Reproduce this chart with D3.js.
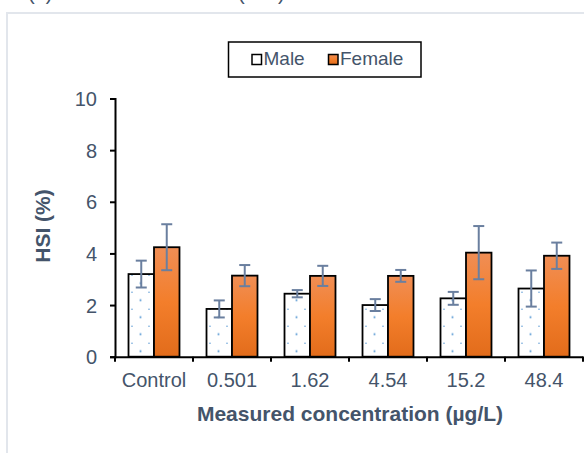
<!DOCTYPE html>
<html lang="en">
<head>
  <meta charset="UTF-8">
  <title>HSI</title>
  <script src="https://d3js.org/d3.v7.min.js"></script>
  <style>
    body{ margin:0; background:#fff; }
    svg{ display:block; font-family:"Liberation Sans", Arial, sans-serif; }
    .tick text{ fill:#44546a; font-size:20px; }
    .domain{ stroke:#000; stroke-width:2; }
  </style>
</head>
<body>
  <div id="chart"><svg></svg></div>
  <script>
    const categories = ["Control", "0.501", "1.62", "4.54", "15.2", "48.4"];
    const series = ["Male", "Female"];
    const maleMean = [3.2, 1.85, 2.44, 2.0, 2.26, 2.64];
    const maleErr = [0.52, 0.33, 0.14, 0.23, 0.25, 0.70];
    const femaleMean = [4.24, 3.14, 3.13, 3.13, 4.03, 3.91];
    const femaleErr = [0.89, 0.41, 0.39, 0.23, 1.03, 0.51];
    const yTicks = [0, 2, 4, 6, 8, 10];

    const W = 584, H = 453;
    const textCol = "#44546a", errCol = "#6a7f9f";
    const svg = d3.select("svg").attr("width", W).attr("height", H);

    const defs = svg.append("defs");
    // dotted fill for male bars
    const pat = defs.append("pattern")
      .attr("id", "dots").attr("patternUnits", "userSpaceOnUse")
      .attr("width", 17).attr("height", 17).attr("y", 2.7);
    pat.append("rect").attr("width", 17).attr("height", 17).attr("fill", "#fff");
    pat.append("rect").attr("x", -0.9).attr("y", -0.9).attr("width", 1.8).attr("height", 1.8).attr("fill", "#5b9bd5");
    pat.append("rect").attr("x", 16.1).attr("y", -0.9).attr("width", 1.8).attr("height", 1.8).attr("fill", "#5b9bd5");
    pat.append("rect").attr("x", 7.6).attr("y", 7.6).attr("width", 1.8).attr("height", 1.8).attr("fill", "#5b9bd5");
    // orange gradient for female bars
    const grad = defs.append("linearGradient").attr("id", "orange")
      .attr("x1", 0).attr("y1", 0).attr("x2", 0).attr("y2", 1);
    grad.append("stop").attr("offset", "0%").attr("stop-color", "#f08e55");
    grad.append("stop").attr("offset", "50%").attr("stop-color", "#f37e2b");
    grad.append("stop").attr("offset", "100%").attr("stop-color", "#e26c1b");

    // light frame
    svg.append("rect").attr("x", 7).attr("y", 13).attr("width", 600).attr("height", 460)
      .attr("fill", "none").attr("stroke", "#e2e6ec").attr("stroke-width", 2);

    // caption line, clipped by the top edge as in the source
    svg.append("text").attr("x", 28).attr("y", 0).attr("font-size", 20).attr("fill", textCol).text("(a)");
    svg.append("text").attr("x", 238).attr("y", 0).attr("font-size", 20).attr("fill", textCol).text("(HSI)");

    const x = d3.scaleBand().domain(categories).range([115, 583]);
    const xSub = d3.scaleBand().domain(series).range([0, x.bandwidth()]).paddingOuter(0.53);
    const y = d3.scaleLinear().domain([0, 10]).range([356.7, 98.5]);

    // y axis
    const yAxis = svg.append("g").attr("transform", "translate(115,0)")
      .call(d3.axisLeft(y).tickValues(yTicks).tickSize(5).tickPadding(13));
    yAxis.selectAll(".tick line").attr("stroke", "#000").attr("stroke-width", 2);
    yAxis.selectAll(".tick text").attr("dy", "0.35em");

    // bars
    const rows = categories.map((c, i) => ({
      cat: c,
      vals: [
        { key: "Male", mean: maleMean[i], err: maleErr[i] },
        { key: "Female", mean: femaleMean[i], err: femaleErr[i] }
      ]
    }));
    const grp = svg.append("g").selectAll("g").data(rows).enter().append("g")
      .attr("transform", d => "translate(" + x(d.cat) + ",0)");
    grp.selectAll("rect").data(d => d.vals).enter().append("rect")
      .attr("x", d => xSub(d.key))
      .attr("y", d => y(d.mean))
      .attr("width", xSub.bandwidth())
      .attr("height", d => y(0) - y(d.mean))
      .attr("fill", d => d.key === "Male" ? "url(#dots)" : "url(#orange)")
      .attr("stroke", "#000").attr("stroke-width", 1.8);

    // x axis
    const xAxis = svg.append("g").attr("transform", "translate(0," + y(0) + ")")
      .call(d3.axisBottom(x).tickSize(0).tickPadding(10));
    xAxis.selectAll(".tick text").attr("dy", "0.71em").attr("y", 16.5);
    xAxis.append("g").selectAll("line")
      .data(categories.map(c => x(c)).concat([x.range()[1]]))
      .enter().append("line")
      .attr("x1", d => d).attr("x2", d => d).attr("y1", 0).attr("y2", 5)
      .attr("stroke", "#000").attr("stroke-width", 2);

    // error bars
    const eb = grp.selectAll("g.err").data(d => d.vals).enter().append("g").attr("class", "err")
      .attr("stroke", errCol).attr("stroke-width", 2);
    const cx = d => xSub(d.key) + xSub.bandwidth() / 2;
    eb.append("line").attr("x1", cx).attr("x2", cx)
      .attr("y1", d => y(d.mean + d.err)).attr("y2", d => y(d.mean - d.err));
    eb.append("line").attr("x1", d => cx(d) - 5.5).attr("x2", d => cx(d) + 5.5)
      .attr("y1", d => y(d.mean + d.err)).attr("y2", d => y(d.mean + d.err));
    eb.append("line").attr("x1", d => cx(d) - 5.5).attr("x2", d => cx(d) + 5.5)
      .attr("y1", d => y(d.mean - d.err)).attr("y2", d => y(d.mean - d.err));

    // axis titles
    svg.append("text").attr("x", 350).attr("y", 421).attr("text-anchor", "middle")
      .attr("font-size", 21).attr("font-weight", "bold").attr("fill", textCol)
      .text("Measured concentration (µg/L)");
    svg.append("text").attr("transform", "translate(50,226) rotate(-90)").attr("text-anchor", "middle")
      .attr("font-size", 21).attr("font-weight", "bold").attr("fill", textCol)
      .text("HSI (%)");

    // legend
    const lg = svg.append("g");
    lg.append("rect").attr("x", 228.5).attr("y", 42).attr("width", 192.5).attr("height", 35)
      .attr("fill", "#fff").attr("stroke", "#000").attr("stroke-width", 1.5);
    const legendX = [252, 328.5];
    series.forEach((s, i) => {
      lg.append("rect").attr("x", legendX[i]).attr("y", 54.5).attr("width", 9.5).attr("height", 10)
        .attr("fill", s === "Male" ? "#fff" : "url(#orange)").attr("stroke", "#000").attr("stroke-width", 1.5);
      lg.append("text").attr("x", legendX[i] + 11.5).attr("y", 65).attr("font-size", 19)
        .attr("fill", textCol).text(s);
    });
  </script>
</body>
</html>
